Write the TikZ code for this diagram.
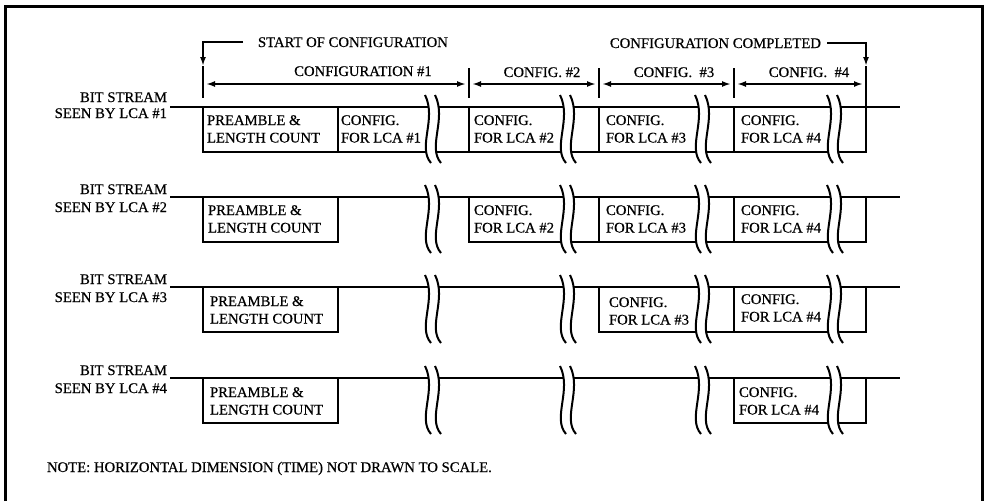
\documentclass[tikz,border=0pt]{standalone}
\usepackage{fontspec}
\setmainfont{Liberation Serif}[FakeBold=0.5]
\usetikzlibrary{arrows.meta}
\newcommand\cellText[5]{%
  \node[bw] (#1a) at (#2,#3+18) {#4};
  \node[bw] (#1b) at (#2,#3+35.5) {#5};}
\newcommand\rowLabel[4]{%
  \node[be] (#1a) at (167,#2) {BIT STREAM};
  \node[be] (#1b) at (167,#3) {SEEN BY LCA \##4};}
\begin{document}
\begin{tikzpicture}[x=1pt,y=-1pt,
  txt/.style={inner sep=0pt, outer sep=0pt, font=\fontsize{14.7}{17}\selectfont},
  bw/.style={txt, anchor=base west},
  be/.style={txt, anchor=base east},
  bc/.style={txt, anchor=base},
  frame/.style={line width=3pt},
  wire/.style={line width=2.3pt},
  tickline/.style={line width=2pt},
  dimarrow/.style={line width=1.8pt, {Latex[length=9pt,width=6pt]}-{Latex[length=9pt,width=6pt]}, shorten <=3pt, shorten >=3pt},
  leader/.style={line width=2pt, -{Latex[length=9pt,width=6pt]}},
  brkline/.style={line width=2pt},
  brk/.pic={
    \fill[white] (0,-12) .. controls (12,12) and (-8,40) .. (6,56) -- (16,56) .. controls (2,40) and (22,12) .. (10,-12) -- cycle;
    \draw[brkline] (0,-12) .. controls (12,12) and (-8,40) .. (6,56);
    \draw[brkline] (10,-12) .. controls (22,12) and (2,40) .. (16,56);
  }]
\useasboundingbox (0,0) rectangle (984,501);
% frame
\draw[frame] (5,501) -- (5,6) -- (982.5,6) -- (982.5,501);

% top annotations
\node[bw] (start) at (258,47) {START OF CONFIGURATION};
\node[be] (done) at (821,48) {CONFIGURATION COMPLETED};
\coordinate (sl) at (243,42);
\coordinate (sa) at (203,66);
\coordinate (el) at (827,43);
\coordinate (ea) at (866,66);
\draw[leader] (sl) -| (sa);
\draw[leader] (el) -| (ea);
\draw[tickline] (sa) -- (203,98);
\draw[tickline] (ea) -- (866,107);
\foreach \x in {469,599,734} \draw[tickline] (\x,68) -- (\x,98);
\foreach \x/\n in {203/0,469/1,599/2,734/3,866/4} \coordinate (t\n) at (\x,84);
\draw[dimarrow] (t0) -- (t1);
\draw[dimarrow] (t1) -- (t2);
\draw[dimarrow] (t2) -- (t3);
\draw[dimarrow] (t3) -- (t4);
\node[bc] (c1) at (363,76) {CONFIGURATION \#1};
\node[bc] (c2) at (542,77) {CONFIG. \#2};
\node[bc] (c3) at (674,77) {CONFIG.\ \ \#3};
\node[bc] (c4) at (809,77) {CONFIG.\ \ \#4};

% rows
\foreach \L in {107,197,287,378} {
  \draw[wire] (170,\L) -- (900,\L);
  \draw[wire] (203,\L) |- (338,\L+45) -- (338,\L);
}
% row 1
\draw[wire] (338,152) -- (866,152) -- (866,107);
\foreach \x in {469,599,734} \draw[wire] (\x,107) -- (\x,152);
% row 2
\draw[wire] (469,197) |- (866,242) -- (866,197);
\foreach \x in {599,734} \draw[wire] (\x,197) -- (\x,242);
% row 3
\draw[wire] (599,287) |- (866,332) -- (866,287);
\draw[wire] (734,287) -- (734,332);
% row 4
\draw[wire] (734,378) |- (866,423) -- (866,378);

% break marks
\foreach \L in {107,197,287,378}
  \foreach \x in {425,560,695,827}
    \pic at (\x,\L) {brk};

% row labels
\rowLabel{r1}{102}{118}{1}
\rowLabel{r2}{194}{212}{2}
\rowLabel{r3}{284}{302}{3}
\rowLabel{r4}{375}{393}{4}

% box texts
\cellText{p1}{207}{107}{PREAMBLE \&}{LENGTH COUNT}
\cellText{a11}{341}{107}{CONFIG.}{FOR LCA \#1}
\cellText{a12}{474}{107}{CONFIG.}{FOR LCA \#2}
\cellText{a13}{606}{107}{CONFIG.}{FOR LCA \#3}
\cellText{a14}{741}{107}{CONFIG.}{FOR LCA \#4}

\cellText{p2}{208}{197}{PREAMBLE \&}{LENGTH COUNT}
\cellText{a22}{474}{197}{CONFIG.}{FOR LCA \#2}
\cellText{a23}{606}{197}{CONFIG.}{FOR LCA \#3}
\cellText{a24}{741}{197}{CONFIG.}{FOR LCA \#4}

\cellText{p3}{210}{288}{PREAMBLE \&}{LENGTH COUNT}
\cellText{a33}{609}{289}{CONFIG.}{FOR LCA \#3}
\cellText{a34}{741}{286}{CONFIG.}{FOR LCA \#4}

\cellText{p4}{210}{379}{PREAMBLE \&}{LENGTH COUNT}
\cellText{a44}{739}{379}{CONFIG.}{FOR LCA \#4}

\node[bw] (note) at (47,472) {NOTE: HORIZONTAL DIMENSION (TIME) NOT DRAWN TO SCALE.};
\end{tikzpicture}
\end{document}
